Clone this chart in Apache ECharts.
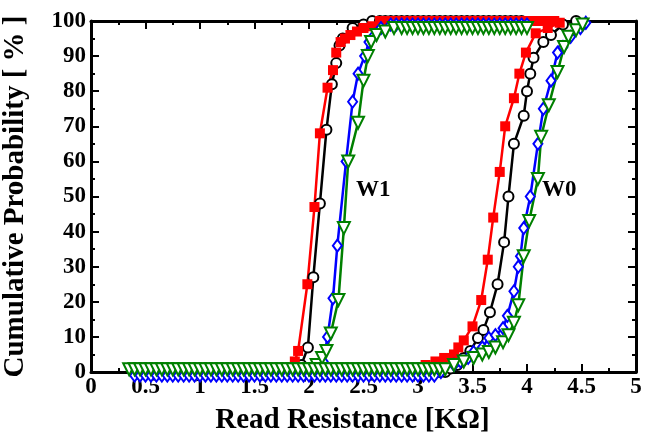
<!DOCTYPE html>
<html>
<head>
<meta charset="utf-8">
<script src="https://cdn.jsdelivr.net/npm/echarts@6/dist/echarts.min.js"></script>
<style>
  html, body { margin: 0; padding: 0; background: #fff; }
  #main { width: 660px; height: 434px; }
</style>
</head>
<body>
<div id="main"></div>
<script>
// 曲线数据 [电阻 KΩ, 累积概率 %]
var redW1 = [[1.78,0],[1.83,1],[1.87,3],[1.90,6],[1.985,25],[2.05,47],[2.10,68],[2.17,81],[2.22,86],[2.25,91],[2.29,94],[2.33,95],[2.38,96],[2.44,97],[2.50,98],[2.58,98.5],[2.65,100]];
var blackW1 = [[1.82,0],[1.88,1],[1.93,2],[1.99,7],[2.04,27],[2.10,48],[2.16,69],[2.21,82],[2.25,88],[2.28,93],[2.31,95],[2.40,98],[2.50,99],[2.58,100]];
var blueW1 = [[1.95,0],[2.05,1],[2.10,2],[2.13,3],[2.17,10],[2.22,21],[2.26,36],[2.34,60],[2.40,77],[2.45,85],[2.51,90],[2.55,94],[2.60,96],[2.66,98],[2.75,99]];
var greenW1 = [[2.00,0.8],[2.07,2],[2.12,4],[2.16,6],[2.20,11],[2.27,20.5],[2.32,41],[2.36,60],[2.45,71],[2.50,83],[2.54,90],[2.57,94],[2.62,96],[2.70,97],[2.78,98]];

var redW0 = [[3.07,2],[3.16,3],[3.24,4],[3.33,5],[3.37,7],[3.42,9],[3.50,13],[3.58,20.5],[3.64,32],[3.69,44],[3.75,57],[3.80,70],[3.88,78],[3.93,85],[3.99,91],[4.08,96.5],[4.19,98],[4.30,99.5]];
var blackW0 = [[3.30,1],[3.36,2],[3.40,3],[3.42,4],[3.48,6],[3.55,9.7],[3.60,12],[3.66,17],[3.73,25],[3.79,37],[3.83,50],[3.88,65],[3.97,73],[4.00,80],[4.03,85],[4.06,89.5],[4.15,94],[4.22,96],[4.33,99],[4.45,100]];
var blueW0 = [[3.21,0],[3.33,2],[3.39,3],[3.46,4],[3.51,5.7],[3.59,7],[3.65,9.7],[3.71,10.5],[3.78,12.5],[3.82,16],[3.88,23],[3.92,30],[3.94,33],[3.97,41],[4.03,50],[4.10,65],[4.15,75],[4.22,83],[4.28,91],[4.33,92.6],[4.40,95.5],[4.49,98],[4.54,99.5]];
var greenW0 = [[3.33,2],[3.42,3],[3.51,4],[3.59,5],[3.65,5.7],[3.71,7],[3.78,8.5],[3.83,10.5],[3.88,14],[3.92,19],[3.97,33],[4.02,43],[4.10,55],[4.13,67],[4.20,76],[4.28,85.5],[4.34,92.6],[4.38,95.5],[4.45,97.4],[4.51,99]];

// 平坦尾部的 x 值
var redTopX = [2.70,2.75,2.80,2.85,2.90,2.95,3.00,3.05,3.10,3.15,3.20,3.25,3.30,3.35,3.40,3.45,3.50,3.55,3.60,3.65,3.70,3.75,3.80,3.85,3.90,3.95,4.00,4.05,4.10,4.15,4.20,4.25];
var blackTopX = [2.65,2.70,2.75,2.80,2.85,2.90,2.95,3.00,3.05,3.10,3.15,3.20,3.25,3.30,3.35,3.40,3.45,3.50,3.55,3.60,3.65,3.70,3.75,3.80,3.85,3.90,3.95];
var blueTopX = [2.80,2.85,2.90,2.95,3.00,3.05,3.10,3.15,3.20,3.25,3.30,3.35,3.40,3.45,3.50,3.55,3.60,3.65,3.70,3.75,3.80,3.85,3.90,3.95,4.00];
var greenTopX = [2.85,2.90,2.95,3.00,3.05,3.10,3.15,3.20,3.25,3.30,3.35,3.40,3.45,3.50,3.55,3.60,3.65,3.70,3.75,3.80,3.85,3.90,3.95,4.00];

var redLowX = [1.70,1.75,1.80,1.85,1.90,1.95,2.00,2.05,2.10,2.15,2.20,2.25,2.30,2.35,2.40,2.45,2.50,2.55,2.60,2.65,2.70,2.75,2.80,2.85,2.90,2.95,3.00];
var blackLowX = [2.00,2.05,2.10,2.15,2.20,2.25,2.30,2.35,2.40,2.45,2.50,2.55,2.60,2.65,2.70,2.75,2.80,2.85,2.90,2.95,3.00,3.05,3.10,3.15,3.20,3.25];
var blueLowX = [0.40,0.45,0.50,0.55,0.60,0.65,0.70,0.75,0.80,0.85,0.90,0.95,1.00,1.05,1.10,1.15,1.20,1.25,1.30,1.35,1.40,1.45,1.50,1.55,1.60,1.65,1.70,1.75,1.80,1.85,1.90,1.95,2.00,2.05,2.10,2.15,2.20,2.25,2.30,2.35,2.40,2.45,2.50,2.55,2.60,2.65,2.70,2.75,2.80,2.85,2.90,2.95,3.00,3.05,3.10,3.15];
var greenLowX = [0.35,0.40,0.45,0.50,0.55,0.60,0.65,0.70,0.75,0.80,0.85,0.90,0.95,1.00,1.05,1.10,1.15,1.20,1.25,1.30,1.35,1.40,1.45,1.50,1.55,1.60,1.65,1.70,1.75,1.80,1.85,1.90,1.95,2.00,2.05,2.10,2.15,2.20,2.25,2.30,2.35,2.40,2.45,2.50,2.55,2.60,2.65,2.70,2.75,2.80,2.85,2.90,2.95,3.00,3.05,3.10,3.15,3.20,3.25];

var xTicks = [0, 5, 0.5];
var yTicks = [0, 100, 10];

function tail(xs, level) {
    return xs.map(function (x) { return [x, level]; });
}

var myChart = echarts.init(document.getElementById('main'));

var font = 'Liberation Serif';

function xAxisOf(pos, show) {
    return {
        type: 'value', position: pos, min: xTicks[0], max: xTicks[1], interval: xTicks[2],
        name: show ? 'Read Resistance [K\u03A9]' : '', nameLocation: 'middle', nameGap: 34,
        nameTextStyle: { fontFamily: font, fontWeight: 'bold', fontSize: 29, color: '#000', padding: [0, 22, 0, 0] },
        axisLine: { onZero: false, lineStyle: { color: '#000', width: 3 } },
        axisTick: { inside: true, length: 8, lineStyle: { width: 2, color: '#000' } },
        minorTick: { show: true, splitNumber: 2, length: 4, lineStyle: { width: 2, color: '#000' } },
        axisLabel: { show: show, margin: 4, fontFamily: font, fontWeight: 'bold', fontSize: 23, color: '#000' },
        splitLine: { show: false }
    };
}
function yAxisOf(pos, show) {
    return {
        type: 'value', position: pos, min: yTicks[0], max: yTicks[1], interval: yTicks[2],
        name: show ? 'Cumulative Probability [ % ]' : '', nameLocation: 'middle', nameGap: 61,
        nameTextStyle: { fontFamily: font, fontWeight: 'bold', fontSize: 29, color: '#000' },
        axisLine: { onZero: false, lineStyle: { color: '#000', width: 3 } },
        axisTick: { inside: true, length: 8, lineStyle: { width: 2, color: '#000' } },
        minorTick: { show: true, splitNumber: 2, length: 4, lineStyle: { width: 2, color: '#000' } },
        axisLabel: { show: show, margin: 5, fontFamily: font, fontWeight: 'bold', fontSize: 23, color: '#000' },
        splitLine: { show: false }
    };
}

function ser(data, color, symbol, size, filled, rotate) {
    return {
        type: 'line', data: data, clip: false, animation: false,
        symbol: symbol, symbolSize: size, symbolRotate: rotate || 0, showAllSymbol: true,
        lineStyle: { color: color, width: 2.5 },
        itemStyle: filled ? { color: color, borderWidth: 0 } : { color: '#fff', borderColor: color, borderWidth: 2 }
    };
}

var option = {
    backgroundColor: '#fff',
    grid: { left: 91, right: 24, top: 21, bottom: 62, outerBoundsMode: 'none', containLabel: false },
    xAxis: [xAxisOf('bottom', true), xAxisOf('top', false)],
    yAxis: [yAxisOf('left', true), yAxisOf('right', false)],
    graphic: [
        { type: 'text', left: 356, top: 179, style: { text: 'W1', fontFamily: font, fontWeight: 'bold', fontSize: 23, fill: '#000' } },
        { type: 'text', left: 542, top: 179, style: { text: 'W0', fontFamily: font, fontWeight: 'bold', fontSize: 23, fill: '#000' } }
    ],
    series: [
        ser(blackW1.concat(tail(blackTopX, 100)), '#000', 'circle', 10, false),
        ser(tail(blackLowX, 0).concat(blackW0), '#000', 'circle', 10, false),
        ser(redW1.concat(tail(redTopX, 100)), '#ff0000', 'rect', 10, true),
        ser(tail(redLowX, 0).concat(redW0), '#ff0000', 'rect', 10, true),
        ser(blueW1.concat(tail(blueTopX, 99)), '#0000ff', 'diamond', [9, 12], false),
        ser(tail(blueLowX, -1).concat(blueW0), '#0000ff', 'diamond', [9, 12], false),
        ser(greenW1.concat(tail(greenTopX, 98)), '#008000', 'triangle', 12, false, 180),
        ser(tail(greenLowX, 0.8).concat(greenW0), '#008000', 'triangle', 12, false, 180)
    ]
};

myChart.setOption(option);
</script>
</body>
</html>
